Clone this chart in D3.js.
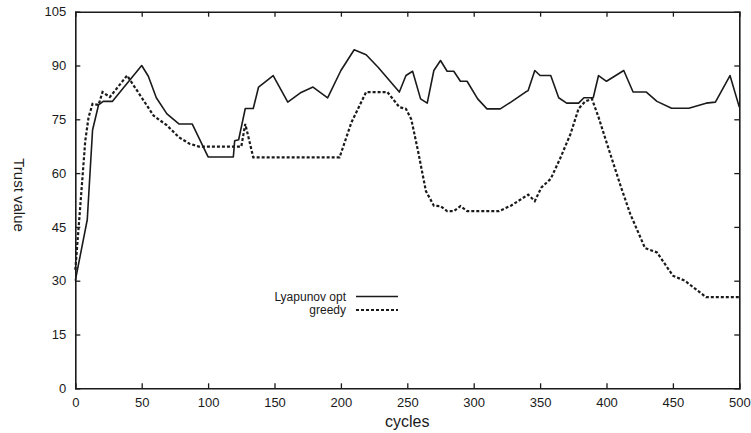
<!DOCTYPE html>
<html>
<head>
<meta charset="utf-8">
<script src="https://cdn.jsdelivr.net/npm/d3@7"></script>
<style>
  html, body { margin: 0; padding: 0; background: #fff; }
  svg { display: block; font-family: "Liberation Sans", Arial, Helvetica, sans-serif; }
</style>
</head>
<body>
<svg id="chart" width="751" height="433"></svg>
<script>
// ---- data ----
const lyapCycles = [0, 9, 13, 17.5, 21, 28, 50, 55, 61, 69, 78, 88, 100, 119, 120, 123, 128, 134, 138, 149, 160, 170, 179, 190, 200, 210, 219, 228, 244, 249, 254, 260, 265, 270, 275, 280, 285, 290, 295, 303, 310, 320, 328, 339, 341, 346, 350, 358, 364, 370, 379, 383, 390, 394, 400, 413, 420, 430, 438, 449, 462, 475, 482, 493, 500];
const lyapValues = [30, 47, 72, 79, 80, 80, 90, 87, 81, 76.5, 73.7, 73.7, 64.5, 64.5, 69, 69.3, 78, 78, 84, 87.2, 79.8, 82.5, 84, 81, 88.6, 94.4, 93, 89.5, 82.6, 87.2, 88.4, 80.7, 79.5, 88.6, 91.4, 88.4, 88.4, 85.6, 85.6, 80.7, 77.9, 77.9, 79.8, 82.6, 83, 88.6, 87.2, 87.2, 81, 79.5, 79.5, 81, 81, 87.2, 85.6, 88.6, 82.6, 82.6, 80, 78.1, 78.1, 79.5, 79.8, 87.2, 78.4];

const greedyCycles = [0, 4, 7.5, 10, 13, 17.5, 20.5, 26, 39, 59, 69, 78, 86, 93, 125, 128, 134, 199, 208, 219, 235, 244, 249, 253, 258, 264, 270, 275, 280, 285, 290, 295, 319, 328, 341, 346, 351, 358, 365, 373, 379, 384, 389, 394, 402, 411, 418, 429, 438, 450, 459, 475, 500];
const greedyValues = [33, 52, 69, 75.6, 79.3, 79, 82.6, 81.2, 87.2, 76, 73.3, 70, 68.2, 67.4, 67.4, 73.7, 64.4, 64.4, 74.2, 82.6, 82.6, 78.4, 77.9, 75, 66.3, 55, 50.9, 50.8, 49.4, 49.4, 50.8, 49.4, 49.4, 50.9, 54, 52.2, 56, 58.4, 64, 71, 78, 80, 80.7, 75.6, 66.3, 56, 48.5, 39.1, 37.9, 31.4, 30, 25.4, 25.4];

const xTicks = [0, 50, 100, 150, 200, 250, 300, 350, 400, 450, 500];
const yTicks = [0, 15, 30, 45, 60, 75, 90, 105];
const seriesNames = ["Lyapunov opt", "greedy"];
const xLabel = "cycles";
const yLabel = "Trust value";

// ---- layout ----
const W = 751, H = 433;
const m = { left: 75.3, right: 11.7, top: 11.7, bottom: 44.7 };
const iw = W - m.left - m.right, ih = H - m.top - m.bottom;
const ink = "#1a1a1a";

const svg = d3.select("#chart");
const x = d3.scaleLinear().domain([0, 500]).range([m.left, m.left + iw]);
const y = d3.scaleLinear().domain([0, 105]).range([m.top + ih, m.top]);

// axes
const tickLen = 5;
const gB = svg.append("g").attr("transform", `translate(0,${m.top + ih})`)
  .call(d3.axisBottom(x).tickValues(xTicks).tickSize(-tickLen).tickPadding(9));
const gT = svg.append("g").attr("transform", `translate(0,${m.top})`)
  .call(d3.axisTop(x).tickValues(xTicks).tickSize(-tickLen).tickFormat(""));
const gL = svg.append("g").attr("transform", `translate(${m.left},0)`)
  .call(d3.axisLeft(y).tickValues(yTicks).tickSize(-tickLen).tickPadding(9));
const gR = svg.append("g").attr("transform", `translate(${m.left + iw},0)`)
  .call(d3.axisRight(y).tickValues(yTicks).tickSize(-tickLen).tickFormat(""));

[gB, gT, gL, gR].forEach(g => {
  g.select(".domain").attr("stroke", ink).attr("stroke-width", 1.6);
  g.selectAll(".tick line").attr("stroke", ink).attr("stroke-width", 1.3);
  g.selectAll(".tick text").attr("fill", ink).style("font-size", "13px")
    .style("font-family", "'Liberation Sans', Arial, sans-serif");
});
// remove the boundary ticks (they overlap the frame)
gT.selectAll(".tick").filter(d => d === 0 || d === 500).select("line").remove();
gB.selectAll(".tick").filter(d => d === 0 || d === 500).select("line").remove();
gL.selectAll(".tick").filter(d => d === 0 || d === 105).select("line").remove();
gR.selectAll(".tick").filter(d => d === 0 || d === 105).select("line").remove();

// axis labels
svg.append("text").attr("x", m.left + iw / 2).attr("y", 427)
  .attr("text-anchor", "middle").attr("fill", ink)
  .style("font-size", "16px").text(xLabel);
svg.append("text")
  .attr("transform", `translate(14,${m.top + ih / 2 - 5}) rotate(90)`)
  .attr("text-anchor", "middle").attr("fill", ink)
  .style("font-size", "15px").text(yLabel);

// lines
const line = d3.line().x(d => x(d[0])).y(d => y(d[1]));
const lyap = lyapCycles.map((c, i) => [c, lyapValues[i]]);
const greedy = greedyCycles.map((c, i) => [c, greedyValues[i]]);

svg.append("path").datum(lyap).attr("d", line)
  .attr("fill", "none").attr("stroke", ink).attr("stroke-width", 1.6)
  .attr("stroke-linejoin", "round");
svg.append("path").datum(greedy).attr("d", line)
  .attr("fill", "none").attr("stroke", ink).attr("stroke-width", 2.2)
  .attr("stroke-dasharray", "3,2");

// legend
const lgX1 = 356, lgX2 = 398, lgTextX = 346;
const lg = svg.append("g");
[[296.5, null, 1.6], [310, "3,2", 2.2]].forEach((row, i) => {
  lg.append("text").attr("x", lgTextX).attr("y", row[0] + 4)
    .attr("text-anchor", "end").attr("fill", ink).style("font-size", "12px")
    .text(seriesNames[i]);
  const l = lg.append("line").attr("x1", lgX1).attr("x2", lgX2)
    .attr("y1", row[0]).attr("y2", row[0])
    .attr("stroke", ink).attr("stroke-width", row[2]);
  if (row[1]) l.attr("stroke-dasharray", row[1]);
});
</script>
</body>
</html>
